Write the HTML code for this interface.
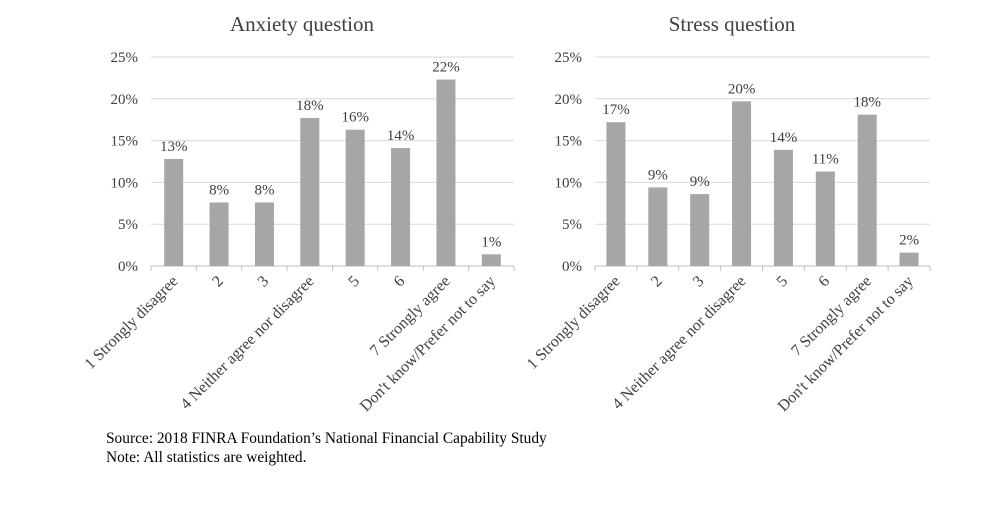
<!DOCTYPE html>
<html><head><meta charset="utf-8"><style>
body{margin:0;background:#fff;}
svg text{font-family:"Liberation Serif",serif;fill:#404040;}
</style></head><body>
<svg width="1000" height="520" xmlns="http://www.w3.org/2000/svg" id="root">
<text x="106" y="443" font-size="15.4" style="fill:#000">Source: 2018 FINRA Foundation’s National Financial Capability Study</text>
<text x="106" y="462" font-size="15.4" style="fill:#000">Note: All statistics are weighted.</text>
</svg>
<script>
const categories=["1 Strongly disagree","2","3","4 Neither agree nor disagree","5","6","7 Strongly agree","Don't know/Prefer not to say"];
const anxietyValues=[12.8,7.6,7.6,17.7,16.3,14.1,22.3,1.4];
const anxietyLabels=["13%","8%","8%","18%","16%","14%","22%","1%"];
const stressValues=[17.2,9.4,8.6,19.7,13.9,11.3,18.1,1.6];
const stressLabels=["17%","9%","9%","20%","14%","11%","18%","2%"];
const yTicks=[0,5,10,15,20,25];
const yTickLabels=["0%","5%","10%","15%","20%","25%"];
const NS="http://www.w3.org/2000/svg";
const root=document.getElementById('root');
function mk(tag,attrs,parent){const e=document.createElementNS(NS,tag);for(const k in attrs)e.setAttribute(k,attrs[k]);parent.appendChild(e);return e;}
function chart(name,title,vals,labels,x0,x1,labelX,titleX){
  const g=mk('g',{},root);
  
  
  const y0=266,y1=57;
  const yS=v=>y0-(v/25)*(y0-y1);
  const step=(x1-x0)/categories.length;
  const xS=i=>x0+step*(i+0.5);
  const t=mk('text',{x:titleX,y:31,'font-size':21,'text-anchor':'middle'},g);t.textContent=title;
  
  
  yTicks.forEach((v,i)=>{
    if(v>0){const l=mk('line',{x1:x0,x2:x1,y1:yS(v),y2:yS(v),stroke:'#d9d9d9','stroke-width':1},g);
      
      }
    const tl=mk('text',{x:labelX,y:yS(v)+5,'font-size':15,'text-anchor':'end'},g);tl.textContent=yTickLabels[i];
    
    
  });
  const ax=mk('line',{x1:x0,x2:x1,y1:y0,y2:y0,stroke:'#bfbfbf','stroke-width':1},g);
  
  
  vals.forEach((v,i)=>{
    const cx=xS(i);
    const b=mk('rect',{x:cx-9.5,y:yS(v),width:19,height:y0-yS(v),fill:'#a6a6a6'},g);
    
    
    const vl=mk('text',{x:cx,y:yS(v)-8,'font-size':15,'text-anchor':'middle'},g);vl.textContent=labels[i];
    
    
    const tk=mk('line',{x1:x0+step*(i+1),x2:x0+step*(i+1),y1:y0,y2:y0+5,stroke:'#bfbfbf'},g);
    
    
    const cl=mk('text',{x:cx+5,y:y0+16,'font-size':16,'text-anchor':'end',transform:`rotate(-45 ${cx+5} ${y0+16})`},g);cl.textContent=categories[i];
    
    
  });
  const tk0=mk('line',{x1:x0,x2:x0,y1:y0,y2:y0+5,stroke:'#bfbfbf'},g);
  
  
}
chart('anxiety-chart','Anxiety question',anxietyValues,anxietyLabels,151,514,138,302);
chart('stress-chart','Stress question',stressValues,stressLabels,595,930,582,732);
</script>
</body></html>
